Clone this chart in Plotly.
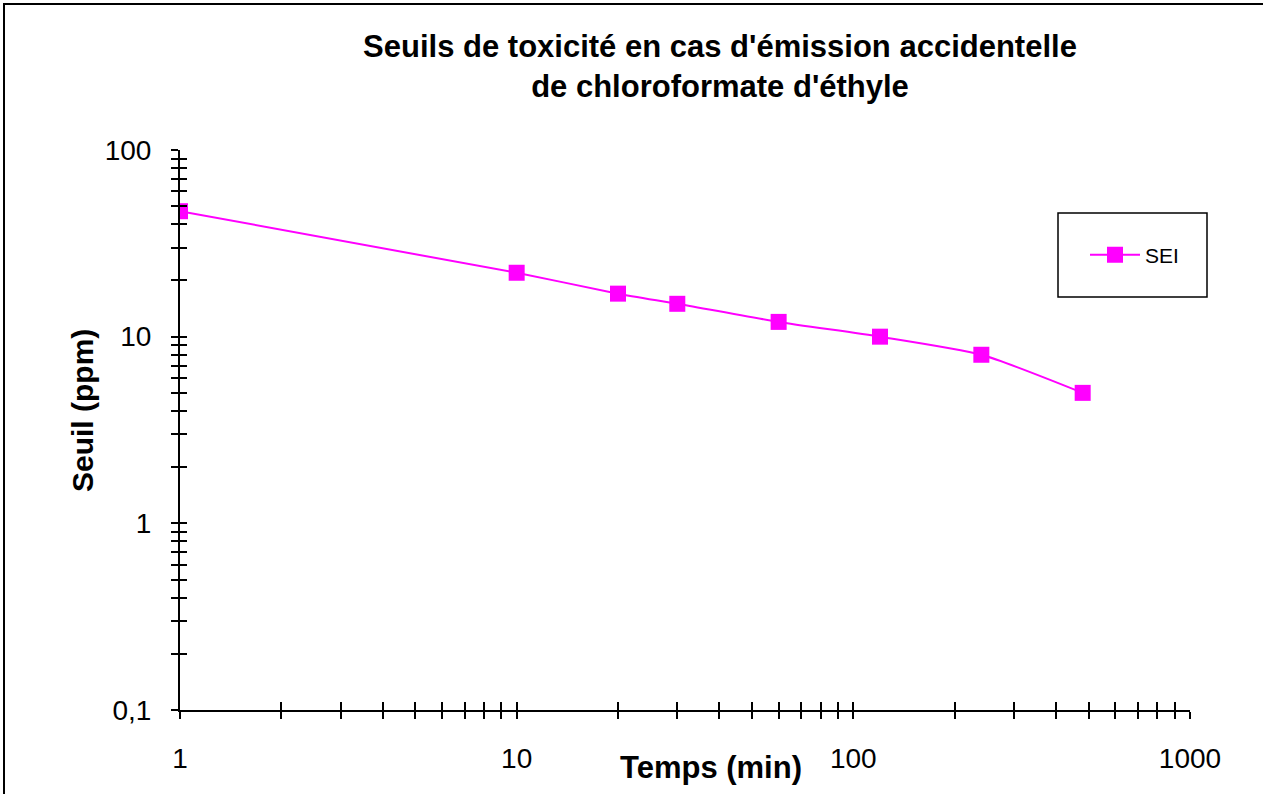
import plotly.graph_objects as go

# Data
temps = [1, 10, 20, 30, 60, 120, 240, 480]
sei = [47, 22, 17, 15, 12, 10, 8, 5]
series_name = "SEI"

x_major = [1, 10, 100, 1000]
y_major = [0.1, 1, 10, 100]
y_major_text = ["0,1", "1", "10", "100"]

title_text = "<b>Seuils de toxicité en cas d'émission accidentelle<br>de chloroformate d'éthyle</b>"
x_title = "<b>Temps (min)</b>"
y_title = "<b>Seuil (ppm)</b>"

W, H = 1263, 794
L, R, T, B = 180, 73, 150, 84
pw, ph = W - L - R, H - T - B


def log_ticks(majors):
    vals = []
    for i, m in enumerate(majors):
        vals.append(m)
        if i < len(majors) - 1:
            for k in range(2, 10):
                vals.append(round(m * k, 6))
    return vals


x_ticks = log_ticks(x_major)
y_ticks = log_ticks(y_major)
x_text = [str(v) if v in x_major else "" for v in x_ticks]
y_text = [y_major_text[y_major.index(v)] if v in y_major else "" for v in y_ticks]

font_main = "Liberation Sans, Arial, sans-serif"

fig = go.Figure()
fig.add_trace(go.Scatter(
    x=temps, y=sei, name=series_name, mode="lines+markers",
    line=dict(color="#FF00FF", width=2, shape="spline", smoothing=0.6),
    marker=dict(symbol="square", size=16, color="#FF00FF"),
))
# invisible trace on overlay axes so inside ticks are drawn
fig.add_trace(go.Scatter(x=[1], y=[1], xaxis="x2", yaxis="y2", mode="markers",
                         marker=dict(opacity=0), showlegend=False, hoverinfo="skip"))

axis_common = dict(type="log", showgrid=False, zeroline=False, showline=True,
                   linecolor="black", linewidth=2, tickcolor="black", tickwidth=2,
                   tickmode="array", tickfont=dict(family=font_main, size=28, color="black"))

fig.update_layout(
    width=W, height=H,
    margin=dict(l=L, r=R, t=T, b=B),
    paper_bgcolor="white", plot_bgcolor="white",
    showlegend=True,
    title=dict(text=title_text, x=(720) / W, xanchor="center", y=1 - 57 / H, yanchor="middle",
               font=dict(family=font_main, size=31, color="black")),
    xaxis=dict(axis_common, range=[0, 3], tickvals=x_ticks, ticktext=x_text,
               ticks="outside", ticklen=7, ticklabelstandoff=15),
    yaxis=dict(axis_common, range=[-1, 2], tickvals=y_ticks, ticktext=y_text,
               ticks="outside", ticklen=7, ticklabelstandoff=14),
    xaxis2=dict(type="log", range=[0, 3], overlaying="x", anchor="y", side="bottom",
                showgrid=False, zeroline=False, showline=False, tickmode="array",
                tickvals=x_ticks, ticks="inside", ticklen=8, tickwidth=2, tickcolor="black",
                showticklabels=False),
    yaxis2=dict(type="log", range=[-1, 2], overlaying="y", anchor="x", side="left",
                showgrid=False, zeroline=False, showline=False, tickmode="array",
                tickvals=y_ticks, ticks="inside", ticklen=7, tickwidth=2, tickcolor="black",
                showticklabels=False),
    legend=dict(x=(1085 - L) / pw, y=(H - B - 255) / ph, xanchor="left", yanchor="middle",
                bgcolor="rgba(0,0,0,0)", borderwidth=0, itemwidth=50,
                font=dict(family=font_main, size=21, color="black")),
    annotations=[
        dict(text=x_title, xref="paper", yref="paper", x=(711 - L) / pw, y=-(767 - (H - B)) / ph,
             xanchor="center", yanchor="middle", showarrow=False,
             font=dict(family=font_main, size=31, color="black")),
        dict(text=y_title, xref="paper", yref="paper", x=-(L - 82) / pw, y=(H - B - 411) / ph,
             xanchor="center", yanchor="middle", showarrow=False, textangle=-90,
             font=dict(family=font_main, size=30, color="black")),
    ],
    shapes=[
        dict(type="rect", xref="paper", yref="paper",
             x0=(1058 - L) / pw, x1=(1207 - L) / pw,
             y0=(H - B - 297) / ph, y1=(H - B - 213) / ph,
             line=dict(color="black", width=1.5), fillcolor="rgba(0,0,0,0)"),
        dict(type="rect", xref="paper", yref="paper",
             x0=(4 - L) / pw, x1=(W + 20 - L) / pw,
             y0=-(H + 20 - (H - B)) / ph, y1=(H - B - 4) / ph,
             line=dict(color="black", width=2), fillcolor="rgba(0,0,0,0)"),
    ],
)

fig.write_html("out.html", config={"displayModeBar": False},
               post_script="document.body.style.margin='0';")
